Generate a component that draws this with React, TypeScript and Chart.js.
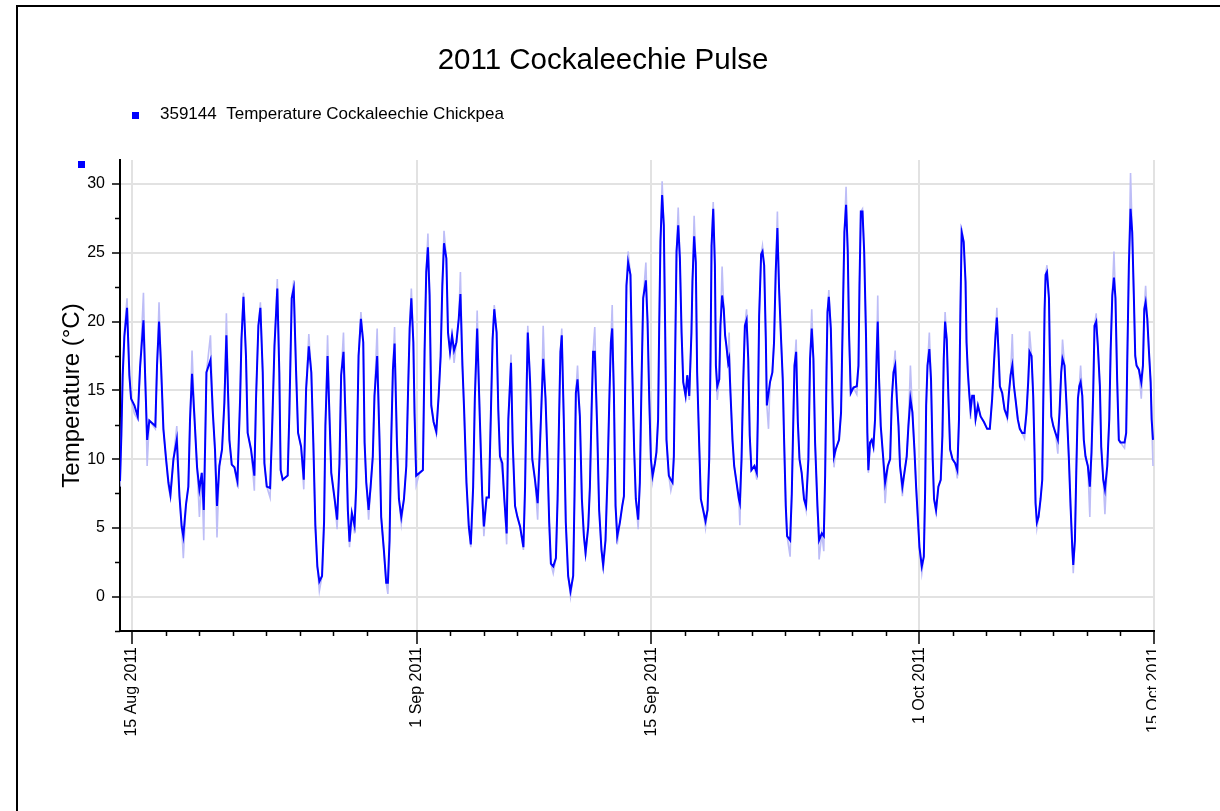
import React, { useEffect, useRef } from "react";
import { Chart, registerables } from "chart.js";

Chart.register(...registerables);

const FONT = '"Liberation Sans", Arial, Helvetica, sans-serif';

const chartTitle = "2011 Cockaleechie Pulse";
const seriesLabel = "359144  Temperature Cockaleechie Chickpea";
const yAxisTitle = "Temperature (°C)";

// x values are days after 15 Aug 2011 00:00
const xMajorDays = [0, 17, 31, 47, 61];
const xMajorLabels = ["15 Aug 2011", "1 Sep 2011", "15 Sep 2011", "1 Oct 2011", "15 Oct 2011"];
const xMinorDays = [2, 4, 6, 8, 10, 12, 14, 19, 21, 23, 25, 27, 29, 33, 35, 37, 39, 41, 43, 45, 49, 51, 53, 55, 57, 59];
const yMajorTicks = [0, 5, 10, 15, 20, 25, 30];
const yMinorTicks = [-2.5, 2.5, 7.5, 12.5, 17.5, 22.5, 27.5];
const xRange = [-0.72, 61];
const yRange = [-2.5, 31.75];

// rows: [day, logged temperature (dark line), raw reading (light line)]
const aug14to26: number[][] = [
  [-0.72, 8.4, 8.0], [-0.64, 11.7, 11.7], [-0.56, 16.1, 16.1], [-0.46, 18.9, 19.3], [-0.3, 21.0, 21.7], [-0.16, 16.1, 16.1], [-0.06, 14.4, 14.4],
  [0.14, 13.9, 13.3], [0.34, 13.1, 12.9], [0.48, 16.7, 16.7], [0.68, 20.1, 22.1], [0.8, 15.3, 15.3], [0.9, 11.4, 9.5], [1.03, 12.8, 12.8],
  [1.39, 12.4, 12.2], [1.49, 16.8, 16.8], [1.61, 20.0, 21.4], [1.73, 16.8, 16.8], [1.87, 12.2, 12.2], [2.03, 10.0, 10.0], [2.17, 8.3, 8.0],
  [2.29, 7.4, 7.2], [2.47, 10.0, 10.0], [2.67, 11.4, 12.4], [2.83, 7.3, 7.3], [2.96, 5.1, 5.1], [3.06, 4.4, 2.8], [3.22, 6.7, 6.7],
  [3.36, 8.0, 8.0], [3.46, 12.9, 12.9], [3.58, 16.2, 17.9], [3.76, 12.2, 12.2], [3.88, 9.4, 9.4], [4.02, 7.8, 5.8], [4.16, 9.0, 9.0],
  [4.28, 6.3, 4.1], [4.36, 10.9, 10.9], [4.44, 16.3, 16.3], [4.68, 17.2, 19.0], [4.82, 13.4, 13.4], [4.95, 10.7, 10.7], [5.07, 6.6, 4.3],
  [5.21, 9.5, 9.5], [5.37, 10.7, 10.7], [5.51, 14.1, 14.1], [5.63, 19.0, 20.6], [5.81, 11.4, 11.4], [5.95, 9.6, 9.6], [6.11, 9.4, 9.4],
  [6.29, 8.4, 8.0], [6.45, 14.4, 14.4], [6.53, 18.7, 18.7], [6.65, 21.8, 22.1], [6.8, 17.5, 17.5], [6.9, 11.9, 11.9], [7.1, 10.7, 10.7],
  [7.3, 8.8, 7.7], [7.4, 14.4, 14.4], [7.54, 19.7, 19.7], [7.66, 21.0, 21.4], [7.8, 16.3, 16.3], [7.9, 9.7, 9.7], [8.04, 8.0, 8.0],
  [8.24, 7.9, 7.2], [8.36, 12.2, 12.2], [8.5, 18.2, 18.2], [8.67, 22.4, 23.1], [8.79, 16.3, 16.3], [8.87, 9.2, 9.2], [8.99, 8.5, 8.5],
  [9.29, 8.8, 8.8], [9.39, 13.4, 13.4], [9.53, 21.7, 21.7], [9.65, 22.4, 23.0], [9.79, 16.4, 16.4], [9.91, 11.9, 11.9], [10.09, 10.9, 10.9],
  [10.25, 8.5, 7.8], [10.39, 15.1, 15.1], [10.55, 18.2, 19.1], [10.7, 16.3, 16.3], [10.82, 11.2, 11.2], [10.94, 5.2, 5.2], [11.06, 2.2, 2.2],
  [11.18, 1.1, 0.4], [11.34, 1.5, 1.5], [11.46, 5.4, 5.4], [11.54, 12.4, 12.4], [11.67, 17.5, 19.0],
];

const aug26toSep8: number[][] = [
  [11.79, 12.9, 12.9], [11.89, 9.0, 9.0], [12.09, 7.1, 7.1], [12.24, 5.6, 4.9], [12.38, 9.7, 9.7], [12.48, 16.1, 16.1], [12.62, 17.8, 19.2],
  [12.78, 11.4, 11.4], [12.88, 6.3, 6.3], [12.98, 4.0, 3.6], [13.12, 6.1, 6.1], [13.28, 5.2, 4.6], [13.38, 8.0, 8.0], [13.52, 17.5, 17.5],
  [13.66, 20.2, 20.7], [13.8, 18.5, 18.5], [13.88, 11.2, 11.2], [13.98, 8.3, 8.3], [14.12, 6.3, 5.6], [14.24, 8.0, 8.0], [14.37, 10.2, 10.2],
  [14.47, 14.6, 14.6], [14.63, 17.5, 19.5], [14.77, 11.4, 11.4], [14.87, 5.8, 5.8], [15.03, 3.4, 3.4], [15.17, 1.0, 1.0], [15.27, 1.0, 0.2],
  [15.37, 4.1, 4.1], [15.47, 11.4, 11.4], [15.57, 16.5, 16.5], [15.67, 18.4, 19.6], [15.81, 11.2, 11.2], [15.93, 7.1, 7.1], [16.07, 5.8, 5.3],
  [16.23, 7.1, 7.1], [16.37, 9.5, 9.5], [16.47, 14.7, 14.7], [16.57, 19.5, 19.5], [16.67, 21.7, 22.4], [16.79, 18.5, 18.5], [16.86, 13.4, 13.4],
  [16.96, 8.8, 8.1], [17.16, 9.0, 9.0], [17.36, 9.2, 9.2], [17.46, 17.8, 17.8], [17.56, 23.6, 23.6], [17.66, 25.4, 26.4], [17.76, 21.9, 21.9],
  [17.86, 13.9, 13.9], [18.0, 12.7, 12.7], [18.16, 12.0, 11.8], [18.3, 14.6, 14.6], [18.42, 17.5, 17.5], [18.52, 22.6, 22.6], [18.62, 25.7, 26.6],
  [18.76, 24.6, 24.6], [18.86, 19.2, 19.2], [18.98, 17.8, 17.8], [19.1, 19.0, 19.0], [19.22, 17.9, 17.0], [19.36, 18.5, 18.5], [19.5, 20.2, 20.2],
  [19.6, 22.0, 23.6], [19.72, 16.8, 16.8], [19.82, 13.6, 13.6], [19.96, 8.3, 8.3], [20.1, 5.1, 5.1], [20.22, 3.8, 3.6], [20.36, 8.0, 8.0],
  [20.46, 14.4, 14.4], [20.6, 19.5, 20.8], [20.76, 12.9, 12.9], [20.9, 7.4, 7.4], [21.0, 5.1, 4.4], [21.16, 7.2, 7.2], [21.3, 7.2, 7.2],
  [21.42, 13.4, 13.4], [21.52, 18.7, 18.7], [21.62, 20.9, 21.2], [21.76, 19.2, 19.2], [21.86, 13.6, 13.6], [21.96, 10.2, 10.2], [22.1, 9.7, 9.0],
  [22.22, 7.1, 7.1], [22.36, 4.6, 3.8], [22.46, 12.9, 12.9], [22.62, 17.0, 17.6], [22.72, 11.2, 11.2], [22.86, 6.6, 6.6], [23.0, 5.8, 5.8],
  [23.16, 5.1, 5.1], [23.36, 3.6, 3.4], [23.46, 8.0, 8.0], [23.56, 15.6, 15.6], [23.62, 19.2, 19.7], [23.76, 15.6, 15.6], [23.89, 10.0, 10.0],
  [24.05, 8.5, 8.5], [24.21, 6.8, 5.6],
];

const sep8toSep21: number[][] = [
  [24.34, 10.7, 10.7], [24.44, 14.1, 14.1], [24.54, 17.3, 19.7], [24.68, 14.4, 14.4], [24.78, 10.7, 10.7], [24.9, 5.4, 5.4], [25.0, 2.4, 2.4],
  [25.14, 2.2, 1.7], [25.3, 2.8, 2.8], [25.4, 7.1, 7.1], [25.49, 13.1, 13.1], [25.57, 17.8, 17.8], [25.65, 19.0, 19.5], [25.77, 12.9, 12.9],
  [25.89, 5.4, 5.4], [26.03, 1.5, 1.5], [26.17, 0.4, 0.0], [26.33, 1.5, 1.5], [26.41, 7.3, 7.3], [26.49, 14.8, 14.8], [26.59, 15.8, 16.8],
  [26.73, 13.1, 13.1], [26.85, 7.1, 7.1], [26.97, 4.4, 4.4], [27.07, 3.2, 2.9], [27.23, 5.1, 5.1], [27.33, 8.0, 8.0], [27.43, 13.6, 13.6],
  [27.52, 17.8, 17.8], [27.62, 17.8, 19.6], [27.76, 12.4, 12.4], [27.88, 6.3, 6.3], [28.02, 3.4, 3.4], [28.12, 2.3, 1.9], [28.26, 4.1, 4.1],
  [28.38, 8.8, 8.8], [28.48, 13.9, 13.9], [28.58, 18.5, 18.5], [28.66, 19.5, 21.2], [28.76, 14.8, 14.8], [28.86, 6.6, 6.6], [28.96, 4.4, 3.8],
  [29.12, 5.4, 5.4], [29.26, 6.6, 6.6], [29.36, 7.3, 7.3], [29.43, 14.8, 14.8], [29.51, 22.6, 22.6], [29.61, 24.3, 25.1], [29.75, 23.4, 23.4],
  [29.85, 16.8, 16.8], [29.97, 10.7, 10.7], [30.07, 7.1, 7.1], [30.21, 5.6, 4.9], [30.31, 8.3, 8.3], [30.41, 15.6, 15.6], [30.51, 21.7, 21.7],
  [30.67, 23.0, 24.3], [30.77, 20.0, 20.0], [30.87, 14.4, 14.4], [30.97, 10.0, 10.0], [31.07, 8.8, 8.4], [31.21, 9.7, 9.7], [31.3, 10.5, 10.5],
  [31.4, 12.9, 12.9], [31.46, 19.2, 19.2], [31.54, 25.8, 25.8], [31.64, 29.2, 30.2], [31.74, 27.0, 27.0], [31.82, 19.5, 19.5], [31.9, 11.4, 11.4],
  [32.04, 8.8, 8.8], [32.16, 8.5, 7.7], [32.26, 8.3, 8.3], [32.34, 10.2, 10.2], [32.42, 17.8, 17.8], [32.5, 25.1, 25.1], [32.6, 27.0, 28.3],
  [32.7, 24.6, 24.6], [32.8, 19.2, 19.2], [32.9, 15.6, 15.6], [33.04, 14.6, 14.6], [33.14, 16.1, 16.1], [33.26, 14.6, 14.3], [33.39, 19.2, 19.2],
  [33.45, 22.9, 22.9], [33.55, 26.2, 27.7], [33.65, 24.3, 24.3], [33.73, 16.3, 16.3], [33.85, 11.2, 11.2], [33.95, 7.1, 7.1], [34.09, 6.3, 6.3],
  [34.23, 5.5, 5.0], [34.35, 6.3, 6.3], [34.45, 10.0, 10.0], [34.53, 17.5, 17.5], [34.59, 25.5, 25.5], [34.69, 28.2, 28.7], [34.79, 24.1, 24.1],
  [34.85, 16.8, 16.8], [34.93, 15.3, 14.3], [35.05, 15.8, 15.8], [35.12, 19.7, 19.7], [35.22, 21.9, 24.0], [35.32, 20.9, 20.9], [35.4, 19.0, 19.0],
  [35.48, 18.2, 18.2], [35.58, 17.0, 17.0], [35.64, 17.3, 19.2], [35.72, 14.8, 14.8], [35.84, 11.4, 11.4], [35.94, 9.5, 9.5], [36.08, 8.3, 8.3],
  [36.22, 7.1, 7.1], [36.28, 6.8, 5.2], [36.38, 10.0, 10.0], [36.48, 15.6, 15.6], [36.58, 19.7, 19.7], [36.68, 20.1, 20.9], [36.78, 17.3, 17.3],
  [36.87, 11.7, 11.7], [36.97, 9.2, 9.2],
];

const sep21toOct4: number[][] = [
  [37.15, 9.5, 9.5], [37.29, 9.0, 8.5], [37.35, 12.9, 12.9], [37.43, 20.4, 20.4], [37.55, 24.9, 24.9], [37.63, 25.1, 25.5], [37.73, 24.1, 24.1],
  [37.83, 18.7, 18.7], [37.89, 13.9, 13.9], [37.99, 14.8, 12.2], [38.08, 15.6, 15.6], [38.22, 16.3, 16.3], [38.32, 18.5, 18.5], [38.42, 23.6, 23.6],
  [38.52, 26.8, 28.0], [38.62, 22.4, 22.4], [38.74, 18.7, 18.7], [38.84, 15.8, 15.8], [38.92, 11.4, 11.4], [39.02, 6.6, 6.6], [39.1, 4.4, 4.4],
  [39.28, 4.1, 2.9], [39.38, 7.5, 7.5], [39.48, 13.4, 13.4], [39.54, 16.8, 16.8], [39.64, 17.8, 18.7], [39.74, 12.7, 12.7], [39.84, 10.0, 10.0],
  [39.97, 9.0, 9.0], [40.11, 7.1, 7.1], [40.23, 6.6, 6.3], [40.37, 10.0, 10.0], [40.47, 17.3, 17.3], [40.57, 19.5, 20.9], [40.67, 17.3, 17.3],
  [40.77, 11.2, 11.2], [40.91, 6.6, 6.6], [41.01, 4.1, 2.7], [41.17, 4.6, 4.6], [41.29, 4.4, 3.3], [41.37, 8.8, 8.8], [41.45, 16.3, 16.3],
  [41.51, 20.7, 20.7], [41.59, 21.8, 22.3], [41.71, 19.5, 19.5], [41.81, 14.1, 14.1], [41.9, 10.2, 9.4], [42.0, 10.7, 10.7], [42.2, 11.4, 11.4],
  [42.32, 13.4, 13.4], [42.42, 20.0, 20.0], [42.52, 26.5, 26.5], [42.62, 28.5, 29.8], [42.72, 25.1, 25.1], [42.8, 19.0, 19.0], [42.9, 14.8, 14.8],
  [43.06, 15.2, 15.2], [43.26, 15.3, 14.7], [43.36, 16.8, 16.8], [43.42, 22.6, 22.6], [43.5, 28.0, 28.0], [43.6, 28.0, 28.2], [43.7, 25.1, 25.1],
  [43.81, 19.0, 19.0], [43.89, 11.9, 11.9], [43.95, 9.2, 9.0], [44.05, 11.2, 11.2], [44.15, 11.4, 11.4], [44.25, 10.9, 10.9], [44.35, 12.9, 12.9],
  [44.45, 17.8, 17.8], [44.51, 20.0, 21.9], [44.59, 15.8, 15.8], [44.69, 12.4, 12.4], [44.81, 10.5, 10.5], [44.95, 8.3, 6.8], [45.11, 9.5, 9.5],
  [45.25, 10.0, 10.0], [45.35, 14.4, 14.4], [45.45, 16.3, 16.3], [45.55, 16.8, 17.9], [45.65, 14.4, 14.4], [45.75, 12.4, 12.4], [45.84, 9.5, 9.5],
  [45.98, 8.0, 7.3], [46.1, 9.0, 9.0], [46.24, 10.2, 10.2], [46.34, 12.4, 12.4], [46.46, 14.4, 16.8], [46.58, 13.4, 13.4], [46.7, 10.7, 10.7],
  [46.8, 8.0, 8.0], [46.9, 5.8, 5.8], [47.0, 3.6, 3.6], [47.14, 2.2, 1.7], [47.26, 2.9, 2.9], [47.34, 7.8, 7.8], [47.4, 13.9, 13.9],
  [47.48, 16.8, 16.8], [47.59, 18.0, 19.2], [47.69, 15.8, 15.8], [47.79, 10.0, 10.0], [47.87, 7.1, 7.1], [47.99, 6.3, 6.1], [48.13, 8.0, 8.0],
  [48.27, 8.5, 8.5], [48.37, 11.7, 11.7], [48.45, 17.3, 17.3], [48.53, 20.0, 20.7], [48.63, 18.7, 18.7], [48.73, 14.4, 14.4], [48.83, 10.7, 10.7],
  [48.97, 10.0, 10.0], [49.13, 9.7, 9.7], [49.26, 9.2, 8.6], [49.36, 12.9, 12.9], [49.44, 20.4, 20.4], [49.52, 26.5, 26.8], [49.64, 25.8, 25.8],
];

const oct4toOct15: number[][] = [
  [49.75, 22.9, 22.9], [49.81, 18.5, 18.5], [49.89, 16.3, 16.3], [49.97, 14.8, 14.8], [50.05, 13.6, 12.9], [50.15, 14.6, 14.6], [50.25, 14.6, 14.6],
  [50.35, 12.9, 12.9], [50.49, 13.9, 13.9], [50.65, 13.1, 13.1], [50.85, 12.7, 12.7], [51.04, 12.2, 12.2], [51.2, 12.2, 12.2], [51.34, 14.4, 14.4],
  [51.44, 16.8, 16.8], [51.54, 19.0, 19.0], [51.62, 20.3, 21.0], [51.72, 17.8, 17.8], [51.8, 15.3, 15.3], [51.94, 14.8, 14.8], [52.08, 13.6, 13.6],
  [52.24, 13.1, 12.9], [52.34, 14.8, 14.8], [52.44, 16.1, 16.1], [52.54, 16.8, 19.1], [52.64, 15.3, 15.3], [52.73, 14.4, 14.4], [52.87, 12.9, 12.9],
  [52.99, 12.2, 12.2], [53.13, 11.9, 11.9], [53.27, 11.9, 11.5], [53.39, 13.4, 13.4], [53.49, 15.6, 15.6], [53.57, 17.8, 19.3], [53.69, 17.5, 17.5],
  [53.79, 14.6, 14.6], [53.87, 10.5, 10.5], [53.93, 6.8, 6.8], [54.01, 5.4, 5.0], [54.11, 5.8, 5.8], [54.23, 7.1, 7.1], [54.33, 8.5, 8.5],
  [54.39, 14.1, 14.1], [54.47, 20.9, 20.9], [54.53, 23.4, 23.4], [54.61, 23.6, 24.1], [54.73, 21.7, 21.7], [54.79, 17.0, 17.0], [54.87, 13.1, 13.1],
  [54.99, 12.4, 12.4], [55.12, 11.9, 11.9], [55.26, 11.4, 10.4], [55.36, 13.4, 13.4], [55.46, 16.3, 16.3], [55.54, 17.3, 18.7], [55.66, 16.8, 16.8],
  [55.78, 13.9, 13.9], [55.92, 10.0, 10.0], [56.02, 6.6, 6.6], [56.12, 3.6, 3.6], [56.18, 2.3, 1.7], [56.28, 4.1, 4.1], [56.36, 9.0, 9.0],
  [56.46, 14.4, 14.4], [56.54, 15.3, 15.3], [56.62, 15.6, 16.8], [56.72, 14.6, 14.6], [56.81, 11.4, 11.4], [56.91, 10.2, 10.2], [57.05, 9.5, 9.5],
  [57.17, 8.0, 5.8], [57.27, 10.5, 10.5], [57.37, 14.8, 14.8], [57.45, 19.7, 19.7], [57.55, 20.0, 20.6], [57.65, 18.2, 18.2], [57.77, 15.3, 15.3],
  [57.85, 10.9, 10.9], [57.97, 8.5, 8.5], [58.07, 7.8, 6.0], [58.21, 9.5, 9.5], [58.33, 12.9, 12.9], [58.41, 17.8, 17.8], [58.51, 21.9, 21.9],
  [58.61, 23.2, 25.1], [58.7, 21.7, 21.7], [58.8, 15.8, 15.8], [58.9, 11.4, 11.4], [59.0, 11.2, 11.2], [59.24, 11.2, 10.8], [59.34, 11.9, 11.9],
  [59.4, 16.8, 16.8], [59.5, 24.1, 24.1], [59.6, 28.2, 30.8], [59.7, 26.5, 26.5], [59.8, 21.7, 21.7], [59.88, 17.5, 17.5], [59.96, 16.8, 16.8],
  [60.1, 16.5, 16.5], [60.24, 15.6, 14.4], [60.34, 16.8, 16.8], [60.42, 20.9, 20.9], [60.5, 21.4, 22.6], [60.6, 20.2, 20.2], [60.7, 17.8, 17.8],
  [60.8, 15.6, 15.6], [60.86, 12.9, 12.9], [60.94, 11.4, 9.5],
];

const DARK = "#0000ff";
const LIGHT = "#bdbdf7";

const decorPlugin = {
  id: "decor",
  afterDraw(chart: any) {
    const { ctx, chartArea, scales } = chart;
    const xs = scales.x;
    const ys = scales.y;
    ctx.save();
    // minor ticks
    ctx.strokeStyle = "#000";
    ctx.lineWidth = 1.5;
    ctx.beginPath();
    for (const d of xMinorDays) {
      const px = Math.round(xs.getPixelForValue(d)) + 0.5;
      ctx.moveTo(px, chartArea.bottom);
      ctx.lineTo(px, chartArea.bottom + 5);
    }
    for (const v of yMinorTicks) {
      const py = Math.round(ys.getPixelForValue(v)) + 0.5;
      ctx.moveTo(chartArea.left - 5, py);
      ctx.lineTo(chartArea.left, py);
    }
    ctx.stroke();

    // title
    ctx.fillStyle = "#000";
    ctx.font = `29.5px ${FONT}`;
    ctx.textAlign = "center";
    ctx.textBaseline = "alphabetic";
    ctx.fillText(chartTitle, 603, 69);

    // legend
    const ds = chart.data.datasets[0];
    ctx.fillStyle = ds.borderColor;
    ctx.fillRect(132, 112, 7, 7);
    ctx.fillStyle = "#000";
    ctx.font = `17px ${FONT}`;
    ctx.textAlign = "left";
    ctx.textBaseline = "middle";
    ctx.fillText(ds.label, 160, 114);

    // small series marker by the axis top
    ctx.fillStyle = ds.borderColor;
    ctx.fillRect(chartArea.left - 42, chartArea.top + 1, 7, 7);
    ctx.restore();
  },
};

export default function App() {
  const ref = useRef<HTMLCanvasElement>(null);

  useEffect(() => {
    const rows = [...aug14to26, ...aug26toSep8, ...sep8toSep21, ...sep21toOct4, ...oct4toOct15];
    const chart = new Chart(ref.current as HTMLCanvasElement, {
      type: "line",
      data: {
        datasets: [
          {
            label: seriesLabel,
            data: rows.map((r) => ({ x: r[0], y: r[1] })),
            borderColor: DARK,
            backgroundColor: DARK,
            borderWidth: 2,
            pointRadius: 0,
            tension: 0,
            fill: false,
          },
          {
            label: "raw",
            data: rows.map((r) => ({ x: r[0], y: r[2] })),
            borderColor: LIGHT,
            backgroundColor: LIGHT,
            borderWidth: 1.6,
            pointRadius: 0,
            tension: 0,
            fill: false,
          },
        ],
      },
      options: {
        responsive: false,
        animation: false,
        devicePixelRatio: 1,
        events: [],
        layout: { padding: { left: 40, top: 160, right: 2, bottom: 0 }, autoPadding: false },
        plugins: {
          legend: { display: false },
          title: { display: false },
          tooltip: { enabled: false },
        },
        scales: {
          x: {
            type: "linear",
            position: "bottom",
            min: xRange[0],
            max: xRange[1],
            afterBuildTicks: (s: any) => {
              s.ticks = xMajorDays.map((v) => ({ value: v }));
            },
            afterFit: (s: any) => {
              s.height = 180;
              s.paddingLeft = 0;
              s.paddingRight = 0;
              s.paddingTop = 0;
              s.paddingBottom = 0;
            },
            grid: { color: "#e2e2e2", lineWidth: 2, tickColor: "#000", tickLength: 13, tickWidth: 1.5 },
            border: { display: true, color: "#000", width: 2 },
            ticks: {
              autoSkip: false,
              maxRotation: 90,
              minRotation: 90,
              padding: 3,
              color: "#000",
              font: { family: FONT, size: 16 },
              callback: (v: any) => {
                const i = xMajorDays.indexOf(Number(v));
                return i >= 0 ? xMajorLabels[i] : "";
              },
            },
          },
          y: {
            type: "linear",
            min: yRange[0],
            max: yRange[1],
            afterBuildTicks: (s: any) => {
              s.ticks = yMajorTicks.map((v) => ({ value: v }));
            },
            afterFit: (s: any) => {
              s.width = 80;
              s.paddingLeft = 0;
              s.paddingRight = 0;
              s.paddingTop = 0;
              s.paddingBottom = 0;
            },
            grid: { color: "#e2e2e2", lineWidth: 2, tickColor: "#000", tickLength: 8, tickWidth: 1.5 },
            border: { display: true, color: "#000", width: 2 },
            ticks: {
              padding: 7,
              color: "#000",
              font: { family: FONT, size: 16 },
              callback: (v: any) => String(v),
            },
            title: {
              display: true,
              text: yAxisTitle,
              color: "#000",
              font: { family: FONT, size: 24 },
              padding: { top: 17.6, bottom: 0 },
            },
          },
        },
      } as any,
      plugins: [decorPlugin],
    });
    return () => chart.destroy();
  }, []);

  return (
    <div style={{ position: "absolute", left: 0, top: 0, width: 1220, height: 811, background: "#fff", overflow: "hidden" }}>
      <canvas ref={ref} width={1156} height={811} style={{ position: "absolute", left: 0, top: 0, width: 1156, height: 811 }} />
      <div style={{ position: "absolute", left: 16, top: 5, right: 0, height: 2, background: "#000" }} />
      <div style={{ position: "absolute", left: 16, top: 5, width: 2, bottom: 0, background: "#000" }} />
    </div>
  );
}
